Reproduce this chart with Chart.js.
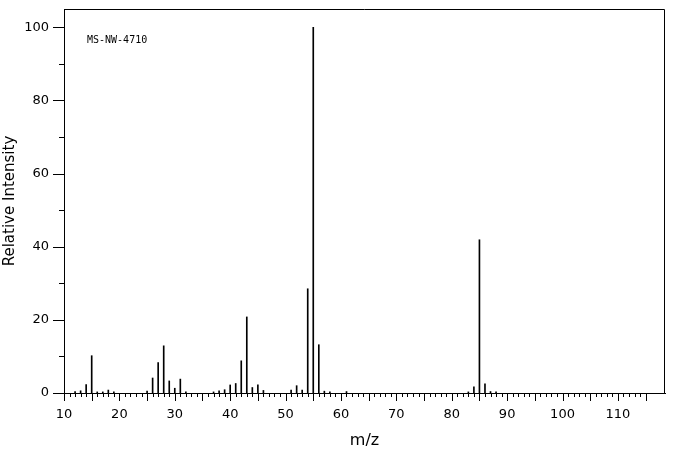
<!DOCTYPE html>
<html>
<head>
<meta charset="utf-8">
<script src="https://cdn.jsdelivr.net/npm/chart.js@4.4.1/dist/chart.umd.min.js"></script>
<style>
  body { margin: 0; background: #fff; }
  #wrap { width: 676px; height: 455px; }
</style>
</head>
<body>
<div id="wrap"><canvas id="spectrum" width="676" height="455"></canvas></div>
<script>
// Spectrum data (m/z, relative intensity).
const mzValues = [12, 13, 14, 15, 16, 17, 18, 19, 25, 26, 27, 28, 29, 30, 31, 32,
  37, 38, 39, 40, 41, 42, 43, 44, 45, 46, 51, 52, 53, 54, 55, 56, 57, 58, 61,
  83, 84, 85, 86, 87, 88];
const intensities = [0.4, 0.6, 2.3, 10.2, 0.3, 0.3, 0.8, 0.3, 0.5, 4.1, 8.3, 12.9, 3.3, 1.3, 3.8, 0.3,
  0.3, 0.6, 0.9, 2.2, 2.6, 8.8, 20.8, 1.5, 2.2, 0.7, 0.8, 2.0, 0.8, 28.5, 100, 13.2, 0.5, 0.3, 0.4,
  0.3, 1.7, 41.9, 2.5, 0.4, 0.3];

// Axis labels.
const xTickLabels = [10, 20, 30, 40, 50, 60, 70, 80, 90, 100, 110];
const yTickLabels = [0, 20, 40, 60, 80, 100];
const sampleId = 'MS-NW-4710';

const xMin = 10;
const xMax = 118.5;
const xTickEnd = 115;

const peaks = mzValues.map((mz, i) => ({x: mz, y: intensities[i]}));

// Draws the top/right frame, the small tick marks and the sample id.
const frameTicks = {
  id: 'frameTicks',
  afterDraw(chart) {
    const {ctx, chartArea: a, scales: {x, y}} = chart;
    ctx.save();
    ctx.strokeStyle = '#000';
    ctx.lineWidth = 1;
    ctx.beginPath();
    ctx.moveTo(a.left, a.top + 0.5);
    ctx.lineTo(a.right - 0.5, a.top + 0.5);
    ctx.lineTo(a.right - 0.5, a.bottom);
    for (let v = xMin; v <= xTickEnd; v++) {
      const px = Math.round(x.getPixelForValue(v)) + 0.5;
      const len = v % 5 === 0 ? 8 : 4;
      ctx.moveTo(px, a.bottom);
      ctx.lineTo(px, a.bottom + len);
    }
    for (let v = 0; v <= 100; v += 10) {
      const py = Math.round(y.getPixelForValue(v)) + 0.5;
      const len = v % 20 === 0 ? 11 : 5;
      ctx.moveTo(a.left, py);
      ctx.lineTo(a.left - len, py);
    }
    ctx.stroke();

    ctx.font = '10px "DejaVu Sans Mono"';
    ctx.fillStyle = '#000';
    ctx.textBaseline = 'middle';
    ctx.fillText(sampleId, a.left + 23, a.top + 31);
    ctx.restore();
  }
};

const config = {
  type: 'bar',
  data: {
    datasets: [{
      data: peaks,
      backgroundColor: '#000',
      borderWidth: 0,
      barThickness: 1,
    }]
  },
  options: {
    responsive: false,
    animation: false,
    devicePixelRatio: 1,
    layout: {padding: {left: 0, top: 9, right: 11, bottom: 0}},
    plugins: {legend: {display: false}, tooltip: {enabled: false}},
    scales: {
      x: {
        type: 'linear',
        min: xMin,
        max: xMax,
        offset: false,
        grid: {display: false, drawTicks: false},
        border: {display: true, color: '#000', width: 1},
        afterBuildTicks: (scale) => { scale.ticks = xTickLabels.map((v) => ({value: v})); },
        afterFit: (scale) => {
          scale.height = 62;
          scale.paddingLeft = 0;
          scale.paddingRight = 0;
        },
        ticks: {
          autoSkip: false,
          maxRotation: 0,
          padding: 14,
          color: '#000',
          font: {family: 'DejaVu Sans', size: 13},
        },
        title: {
          display: true,
          text: 'm/z',
          color: '#000',
          font: {family: 'DejaVu Sans', size: 16},
          padding: {top: 0, bottom: 5},
        }
      },
      y: {
        min: 0,
        max: 105,
        grid: {display: false, drawTicks: false},
        border: {display: true, color: '#000', width: 1},
        afterBuildTicks: (scale) => { scale.ticks = yTickLabels.map((v) => ({value: v})); },
        afterFit: (scale) => {
          scale.width = 64;
          scale.paddingTop = 0;
          scale.paddingBottom = 0;
        },
        ticks: {
          padding: 15,
          color: '#000',
          font: {family: 'DejaVu Sans', size: 13},
        },
        title: {
          display: true,
          text: 'Relative Intensity',
          color: '#000',
          font: {family: 'DejaVu Sans', size: 15},
          padding: {top: 1, bottom: 0},
        }
      }
    }
  },
  plugins: [frameTicks]
};

new Chart(document.getElementById('spectrum'), config);
</script>
</body>
</html>
